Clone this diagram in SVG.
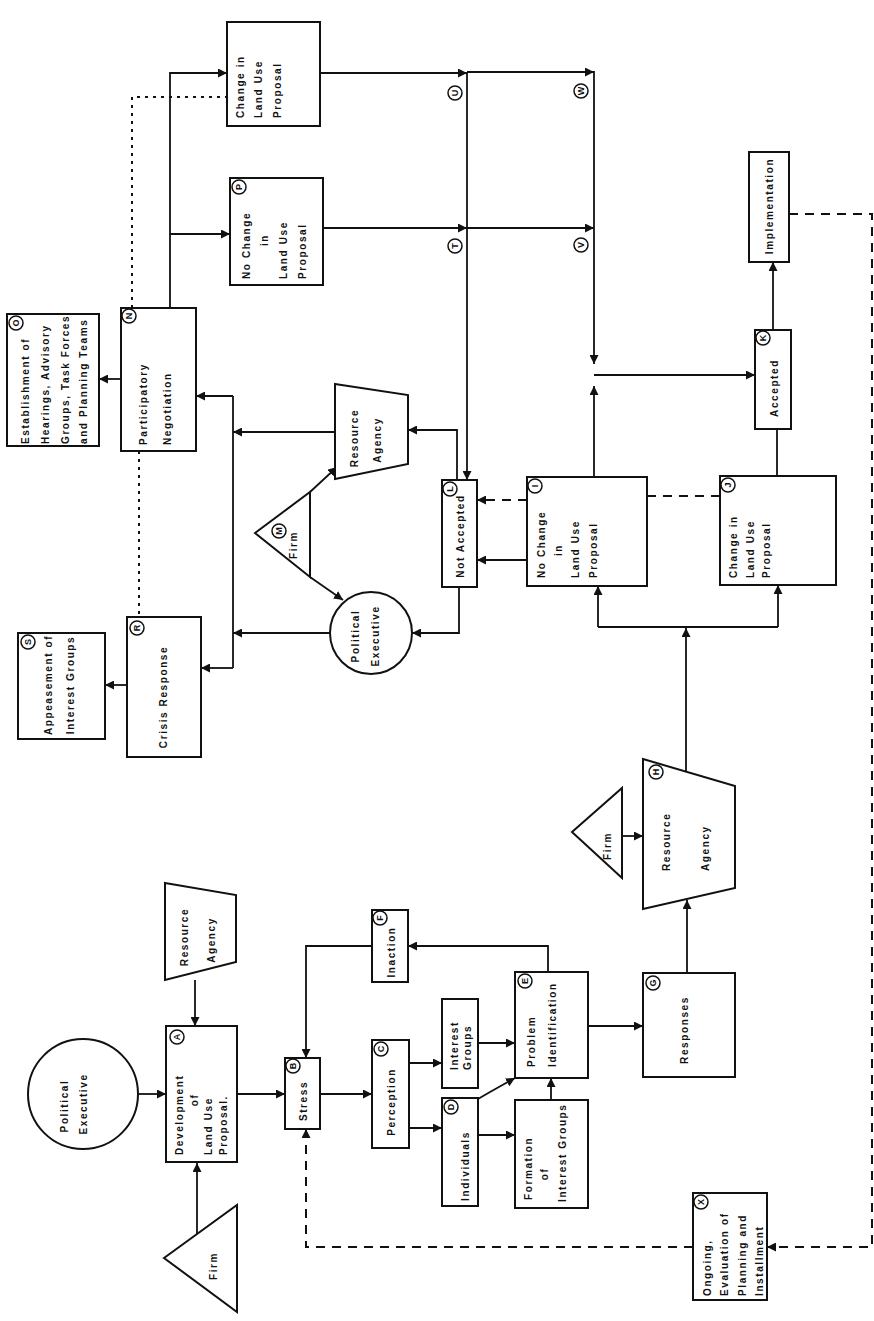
<svg xmlns="http://www.w3.org/2000/svg" width="874" height="1321" viewBox="0 0 874 1321">
<style>
.bg{fill:#ffffff}
.n{fill:#fff;stroke:#111;stroke-width:2}
.t{font-family:"Liberation Sans",Arial,sans-serif;font-weight:bold;font-size:10px;letter-spacing:1.6px;fill:#111;dominant-baseline:central}
.m{text-anchor:middle}
.s{text-anchor:start}
.c{fill:none;stroke:#111;stroke-width:1.8}
.ca{fill:none;stroke:#111;stroke-width:1.8;marker-end:url(#ah)}
.d{fill:none;stroke:#111;stroke-width:2;stroke-dasharray:9 7}
.da{fill:none;stroke:#111;stroke-width:2;stroke-dasharray:9 7;marker-end:url(#ah)}
.dt{fill:none;stroke:#111;stroke-width:2;stroke-dasharray:3 5}
.lc{fill:#fff;stroke:#111;stroke-width:1.5}
.lt{font-family:"Liberation Sans",Arial,sans-serif;font-weight:bold;font-size:9px;fill:#111;text-anchor:middle;dominant-baseline:central}
</style>
<defs>
<marker id="ah" viewBox="0 0 10 10" refX="10" refY="5" markerWidth="9" markerHeight="9" markerUnits="userSpaceOnUse" orient="auto"><path d="M0,0 L10,5 L0,10 z" fill="#111"/></marker>
</defs>
<rect class="bg" x="0" y="0" width="874" height="1321"/>

<g id="connectors">
<path class="ca" d="M138,1094 H166"/>
<path class="ca" d="M195,980 V1026"/>
<path class="ca" d="M197,1234 V1163"/>
<path class="ca" d="M237,1094 H285"/>
<path class="ca" d="M320,1094 H372"/>
<path class="ca" d="M409,1063 H442"/>
<path class="ca" d="M409,1128 H442"/>
<path class="ca" d="M478,1043 H515"/>
<path class="ca" d="M478,1099 L490,1092 L515,1078"/>
<path class="ca" d="M478,1135 H515"/>
<path class="ca" d="M551,1100 V1078"/>
<path class="ca" d="M548,972 V946 H408"/>
<path class="ca" d="M372,946 H306 V1058"/>
<path class="ca" d="M588,1026 H643"/>
<path class="ca" d="M687,973 V900"/>
<path class="ca" d="M622,836 H643"/>
<path class="ca" d="M686,772 V628"/>
<path class="c" d="M598,627 H778"/>
<path class="ca" d="M598,627 V586"/>
<path class="ca" d="M778,627 V585"/>
<path class="ca" d="M527,560 H477"/>
<path class="d" d="M720,496 H647"/>
<path class="da" d="M527,500 H477"/>
<path class="ca" d="M594,477 V386"/>
<path class="ca" d="M594,71 V364"/>
<path class="ca" d="M594,375 H755"/>
<path class="c" d="M777,477 V429"/>
<path class="ca" d="M773,330 V262"/>
<path class="da" d="M789,214 H872 V1247 H767"/>
<path class="da" d="M693,1247 H306 V1129"/>
<path class="ca" d="M459,587 V633 H412"/>
<path class="ca" d="M457,480 V430 H408"/>
<path class="ca" d="M467,73 V480"/>
<path class="ca" d="M320,73 H467"/>
<path class="ca" d="M467,72 H594"/>
<path class="ca" d="M323,228 H467"/>
<path class="ca" d="M467,228 H594"/>
<path class="ca" d="M310,492 L337,467"/>
<path class="ca" d="M310,577 L343,600"/>
<path class="ca" d="M335,432 H233"/>
<path class="ca" d="M330,633 H233"/>
<path class="c" d="M233,396 V668"/>
<path class="ca" d="M233,396 H196"/>
<path class="ca" d="M233,668 H201"/>
<path class="ca" d="M121,379 H99"/>
<path class="ca" d="M127,685 H105"/>
<path class="dt" d="M139,451 V617"/>
<path class="ca" d="M170,308 V73 H227"/>
<path class="ca" d="M170,234 H230"/>
<path class="dt" d="M132,308 V97 H227"/>
</g>

<g id="establishment">
<rect class="n" x="7" y="314" width="92" height="132"/>
<text class="t s" transform="translate(25,444) rotate(-90)">Establishment of</text>
<text class="t s" transform="translate(45,444) rotate(-90)">Hearings, Advisory</text>
<text class="t s" transform="translate(65,444) rotate(-90)">Groups, Task Forces</text>
<text class="t s" transform="translate(83,444) rotate(-90)">and Planning Teams</text>
<circle class="lc" cx="16" cy="323" r="7"/><text class="lt" transform="translate(16,323) rotate(-90)">O</text>
</g>

<g id="participatory">
<rect class="n" x="121" y="308" width="75" height="143"/>
<text class="t s" transform="translate(143,445) rotate(-90)">Participatory</text>
<text class="t s" transform="translate(167,445) rotate(-90)">Negotiation</text>
<circle class="lc" cx="129" cy="316" r="7"/><text class="lt" transform="translate(129,316) rotate(-90)">N</text>
</g>

<g id="appeasement">
<rect class="n" x="18" y="633" width="87" height="106"/>
<text class="t m" transform="translate(48,685) rotate(-90)">Appeasement of</text>
<text class="t m" transform="translate(70,685) rotate(-90)">Interest Groups</text>
<circle class="lc" cx="28" cy="642" r="7"/><text class="lt" transform="translate(28,642) rotate(-90)">S</text>
</g>

<g id="crisis">
<rect class="n" x="127" y="617" width="74" height="140"/>
<text class="t m" transform="translate(163,697) rotate(-90)">Crisis Response</text>
<circle class="lc" cx="137" cy="628" r="7"/><text class="lt" transform="translate(137,628) rotate(-90)">R</text>
</g>

<g id="change-top">
<rect class="n" x="227" y="22" width="93" height="104"/>
<text class="t s" transform="translate(240,118) rotate(-90)">Change in</text>
<text class="t s" transform="translate(258,118) rotate(-90)">Land Use</text>
<text class="t s" transform="translate(277,118) rotate(-90)">Proposal</text>
</g>

<g id="nochange-top">
<rect class="n" x="230" y="178" width="93" height="107"/>
<text class="t s" transform="translate(246,279) rotate(-90)">No Change</text>
<text class="t m" transform="translate(264,240) rotate(-90)">in</text>
<text class="t s" transform="translate(283,279) rotate(-90)">Land Use</text>
<text class="t s" transform="translate(302,279) rotate(-90)">Proposal</text>
<circle class="lc" cx="239" cy="187" r="7"/><text class="lt" transform="translate(239,187) rotate(-90)">P</text>
</g>

<g id="firm-mid">
<polygon class="n" points="255,533 310,492 310,577"/>
<text class="t m" transform="translate(293,545) rotate(-90)">Firm</text>
<circle class="lc" cx="279" cy="531" r="7"/><text class="lt" transform="translate(279,531) rotate(-90)">M</text>
</g>

<g id="agency-mid">
<polygon class="n" points="335,384 408,395 408,464 335,479"/>
<text class="t m" transform="translate(354,438) rotate(-90)">Resource</text>
<text class="t m" transform="translate(377,440) rotate(-90)">Agency</text>
</g>

<g id="political-mid">
<circle class="n" cx="371" cy="633" r="41"/>
<text class="t m" transform="translate(355,636) rotate(-90)">Political</text>
<text class="t m" transform="translate(375,636) rotate(-90)">Executive</text>
</g>

<g id="not-accepted">
<rect class="n" x="442" y="480" width="35" height="107"/>
<text class="t m" transform="translate(460,536) rotate(-90)">Not Accepted</text>
<circle class="lc" cx="450" cy="489" r="7"/><text class="lt" transform="translate(450,489) rotate(-90)">L</text>
</g>

<g id="nochange-mid">
<rect class="n" x="527" y="477" width="120" height="109"/>
<text class="t s" transform="translate(541,578) rotate(-90)">No Change</text>
<text class="t m" transform="translate(558,550) rotate(-90)">in</text>
<text class="t s" transform="translate(575,578) rotate(-90)">Land Use</text>
<text class="t s" transform="translate(593,578) rotate(-90)">Proposal</text>
<circle class="lc" cx="535" cy="486" r="7"/><text class="lt" transform="translate(535,486) rotate(-90)">I</text>
</g>

<g id="change-mid">
<rect class="n" x="720" y="476" width="116" height="109"/>
<text class="t s" transform="translate(733,578) rotate(-90)">Change in</text>
<text class="t s" transform="translate(750,578) rotate(-90)">Land Use</text>
<text class="t s" transform="translate(766,578) rotate(-90)">Proposal</text>
<circle class="lc" cx="728" cy="485" r="7"/><text class="lt" transform="translate(728,485) rotate(-90)">J</text>
</g>

<g id="accepted">
<rect class="n" x="755" y="330" width="36" height="99"/>
<text class="t m" transform="translate(774,388) rotate(-90)">Accepted</text>
<circle class="lc" cx="763" cy="338" r="7"/><text class="lt" transform="translate(763,338) rotate(-90)">K</text>
</g>

<g id="implementation">
<rect class="n" x="749" y="152" width="40" height="110"/>
<text class="t m" transform="translate(769,206) rotate(-90)">Implementation</text>
</g>

<g id="line-labels">
<circle class="lc" cx="455" cy="93" r="7"/><text class="lt" transform="translate(455,93) rotate(-90)">U</text>
<circle class="lc" cx="455" cy="246" r="7"/><text class="lt" transform="translate(455,246) rotate(-90)">T</text>
<circle class="lc" cx="581" cy="91" r="7"/><text class="lt" transform="translate(581,91) rotate(-90)">W</text>
<circle class="lc" cx="581" cy="245" r="7"/><text class="lt" transform="translate(581,245) rotate(-90)">V</text>
</g>

<g id="political-low">
<circle class="n" cx="83" cy="1094" r="55"/>
<text class="t m" transform="translate(64,1106) rotate(-90)">Political</text>
<text class="t m" transform="translate(83,1104) rotate(-90)">Executive</text>
</g>

<g id="agency-low">
<polygon class="n" points="165,883 236,895 236,962 165,980"/>
<text class="t m" transform="translate(184,937) rotate(-90)">Resource</text>
<text class="t m" transform="translate(211,940) rotate(-90)">Agency</text>
</g>

<g id="development">
<rect class="n" x="166" y="1026" width="71" height="136"/>
<text class="t s" transform="translate(179,1155) rotate(-90)">Development</text>
<text class="t m" transform="translate(194,1100) rotate(-90)">of</text>
<text class="t s" transform="translate(208,1155) rotate(-90)">Land Use</text>
<text class="t s" transform="translate(223,1155) rotate(-90)">Proposal.</text>
<circle class="lc" cx="177" cy="1037" r="7"/><text class="lt" transform="translate(177,1037) rotate(-90)">A</text>
</g>

<g id="firm-low">
<polygon class="n" points="164,1258 237,1205 237,1312"/>
<text class="t m" transform="translate(213,1266) rotate(-90)">Firm</text>
</g>

<g id="stress">
<rect class="n" x="285" y="1058" width="35" height="71"/>
<text class="t m" transform="translate(303,1101) rotate(-90)">Stress</text>
<circle class="lc" cx="293" cy="1066" r="7"/><text class="lt" transform="translate(293,1066) rotate(-90)">B</text>
</g>

<g id="inaction">
<rect class="n" x="372" y="910" width="36" height="72"/>
<text class="t m" transform="translate(391,952) rotate(-90)">Inaction</text>
<circle class="lc" cx="380" cy="918" r="7"/><text class="lt" transform="translate(380,918) rotate(-90)">F</text>
</g>

<g id="perception">
<rect class="n" x="372" y="1040" width="37" height="108"/>
<text class="t m" transform="translate(391,1102) rotate(-90)">Perception</text>
<circle class="lc" cx="381" cy="1049" r="7"/><text class="lt" transform="translate(381,1049) rotate(-90)">C</text>
</g>

<g id="interest-groups">
<rect class="n" x="442" y="999" width="36" height="89"/>
<text class="t s" transform="translate(454,1070) rotate(-90)">Interest</text>
<text class="t s" transform="translate(467,1070) rotate(-90)">Groups</text>
</g>

<g id="individuals">
<rect class="n" x="442" y="1098" width="36" height="108"/>
<text class="t m" transform="translate(465,1166) rotate(-90)">Individuals</text>
<circle class="lc" cx="451" cy="1107" r="7"/><text class="lt" transform="translate(451,1107) rotate(-90)">D</text>
</g>

<g id="problem">
<rect class="n" x="515" y="972" width="73" height="106"/>
<text class="t s" transform="translate(531,1067) rotate(-90)">Problem</text>
<text class="t s" transform="translate(552,1067) rotate(-90)">Identification</text>
<circle class="lc" cx="525" cy="981" r="7"/><text class="lt" transform="translate(525,981) rotate(-90)">E</text>
</g>

<g id="formation">
<rect class="n" x="515" y="1100" width="73" height="108"/>
<text class="t s" transform="translate(528,1200) rotate(-90)">Formation</text>
<text class="t m" transform="translate(544,1174) rotate(-90)">of</text>
<text class="t s" transform="translate(562,1202) rotate(-90)">Interest Groups</text>
</g>

<g id="responses">
<rect class="n" x="643" y="973" width="92" height="104"/>
<text class="t m" transform="translate(684,1030) rotate(-90)">Responses</text>
<circle class="lc" cx="653" cy="983" r="7"/><text class="lt" transform="translate(653,983) rotate(-90)">G</text>
</g>

<g id="agency-big">
<polygon class="n" points="643,759 735,786 735,888 643,909"/>
<text class="t s" transform="translate(666,871) rotate(-90)">Resource</text>
<text class="t s" transform="translate(705,871) rotate(-90)">Agency</text>
<circle class="lc" cx="656" cy="772" r="7"/><text class="lt" transform="translate(656,772) rotate(-90)">H</text>
</g>

<g id="firm-big">
<polygon class="n" points="572,832 622,788 622,878"/>
<text class="t m" transform="translate(607,846) rotate(-90)">Firm</text>
</g>

<g id="ongoing">
<rect class="n" x="693" y="1193" width="74" height="107"/>
<text class="t s" transform="translate(707,1296) rotate(-90)">Ongoing,</text>
<text class="t s" transform="translate(724,1296) rotate(-90)">Evaluation of</text>
<text class="t s" transform="translate(742,1296) rotate(-90)">Planning and</text>
<text class="t s" transform="translate(759,1296) rotate(-90)">Installment</text>
<circle class="lc" cx="701" cy="1202" r="7"/><text class="lt" transform="translate(701,1202) rotate(-90)">X</text>
</g>
</svg>
